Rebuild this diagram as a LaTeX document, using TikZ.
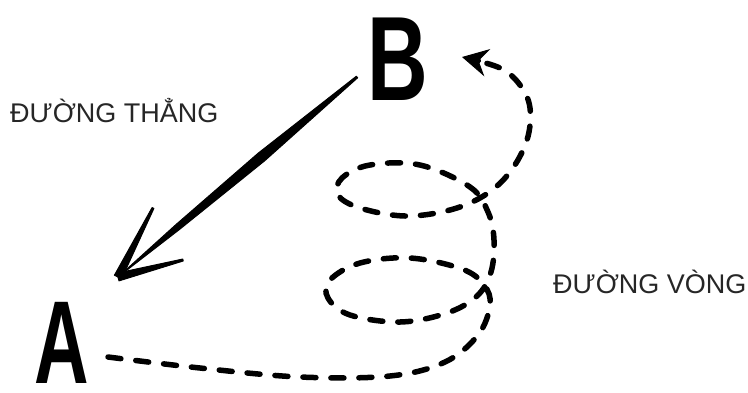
\documentclass[tikz,border=0pt]{standalone}
\usepackage{fontspec}
\setmainfont{Liberation Sans}
\usetikzlibrary{calc,arrows.meta}
\tikzset{
  lbl/.style={anchor=base west,inner sep=0pt,font=\fontsize{27}{27}\selectfont,text=black!85},
  letter/.style={anchor=base,inner sep=0pt},
  ink/.style={fill=black,draw=black,line width=1pt,line join=round},
  loopline/.style={line width=5.5pt,line cap=round,dash pattern=on 13pt off 15pt,
    -{Stealth[length=26pt,width=28pt,inset=9pt,line width=1pt]}}
}
\begin{document}
\begin{tikzpicture}[x=1pt,y=-1pt]
\useasboundingbox (0,0) rectangle (748,392);
% labels
\node[lbl] (lt) at (10,122) {ĐƯỜNG THẲNG};
\node[lbl] (lv) at (553,293) {ĐƯỜNG VÒNG};
% letters
\node[letter] (A) at (62,383) {\scalebox{0.64}[1]{\fontsize{118}{118}\bfseries\selectfont A}};
\node[letter] (B) at (398,100) {\scalebox{0.7}[1]{\fontsize{120}{120}\bfseries\selectfont B}};
% straight arrow B -> A
\coordinate (bs) at (357,77);
\coordinate (tip) at (118,277);
\coordinate (b1) at (153,208);
\coordinate (b2) at (183,260);
\filldraw[ink] ($(bs)!1pt!90:(tip)$) -- ($(bs)!0.4!(tip)!5pt!90:(tip)$) -- ($(bs)!0.75!(tip)!3pt!90:(tip)$) -- (tip)
  -- ($(bs)!0.75!(tip)!3pt!-90:(tip)$) -- ($(bs)!0.4!(tip)!5pt!-90:(tip)$) -- ($(bs)!1pt!-90:(tip)$) -- cycle;
\filldraw[ink] ($(tip)!4pt!90:(b1)$) -- ($(b1)!1pt!-90:(tip)$) -- ($(b1)!1pt!90:(tip)$) -- ($(tip)!4pt!-90:(b1)$) -- cycle;
\filldraw[ink] ($(tip)!4pt!90:(b2)$) -- ($(b2)!1pt!-90:(tip)$) -- ($(b2)!1pt!90:(tip)$) -- ($(tip)!4pt!-90:(b2)$) -- cycle;
% looping dashed path A -> B
\coordinate (sA) at (108,357);
\coordinate (eB) at (462,57);
\draw[loopline] plot[smooth,tension=0.6] coordinates {
  (sA) (200,368) (300,377) (390,376) (445,362) (478,335) (490,305) (484,285)
  (462,269) (410,258) (360,263) (330,280) (328,298) (350,315) (400,322) (447,313)
  (477,296) (491,272) (494,240) (488,212) (470,187) (420,165) (370,165) (342,178)
  (338,195) (360,208) (405,216) (450,210) (485,195) (510,172) (527,140) (530,108)
  (520,85) (500,68) (eB)};
\end{tikzpicture}
\end{document}
